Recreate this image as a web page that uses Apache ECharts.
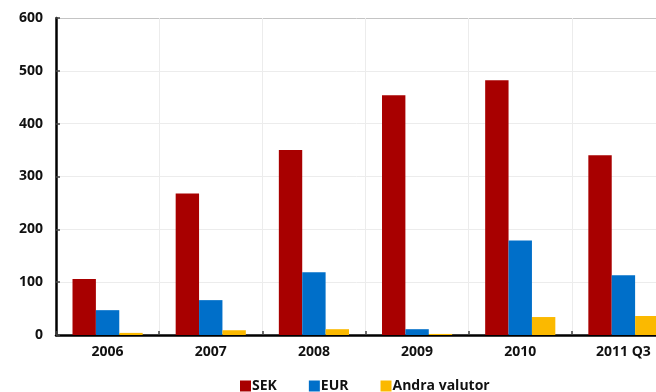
<!DOCTYPE html>
<html>
<head>
<meta charset="utf-8">
<script src="https://cdn.jsdelivr.net/npm/echarts@6/dist/echarts.min.js"></script>
<style>
  html, body { margin: 0; padding: 0; background: #fff; }
  #chart { width: 656px; height: 392px; }
</style>
</head>
<body>
<div id="chart"></div>
<script>
// Categories and values per currency (mdkr)
const categories = ['2006', '2007', '2008', '2009', '2010', '2011 Q3'];
const sek = [106, 268, 350, 454, 482, 340];
const eur = [47, 66, 119, 11, 179, 113];
const andra = [4, 9, 11, 2, 34, 36];
const yTicks = { min: 0, max: 600, interval: 100 };

const FONT = '"Open Sans", "Liberation Sans", sans-serif';
const chart = echarts.init(document.getElementById('chart'), null, { renderer: 'canvas' });

const bar = (name, data, color) => ({
  name, type: 'bar', data,
  itemStyle: { color },
  barGap: '0%',
  barCategoryGap: '32%'
});

chart.setOption({
  animation: false,
  backgroundColor: '#ffffff',
  textStyle: { fontFamily: FONT },
  // plot area runs past the right edge of the canvas
  grid: { left: 56, top: 18, right: -19, bottom: 57, containLabel: false, outerBoundsMode: 'none' },
  legend: {
    left: 235, top: 374,
    itemWidth: 11, itemHeight: 11, itemGap: 32,
    icon: 'rect',
    textStyle: { fontFamily: FONT, fontWeight: 'bold', fontSize: 14, color: '#111', padding: [0, 0, 0, -4] },
    data: ['SEK', 'EUR', 'Andra valutor']
  },
  xAxis: {
    type: 'category',
    data: categories,
    axisLine: { show: true, lineStyle: { color: '#000', width: 2.5 } },
    axisTick: { show: true, inside: true, length: 4, lineStyle: { color: '#444', width: 1.5 } },
    splitLine: { show: true, lineStyle: { color: '#ececec', width: 1 } },
    axisLabel: { fontFamily: FONT, fontWeight: 'bold', fontSize: 14, color: '#111', margin: 10 }
  },
  yAxis: {
    type: 'value',
    min: yTicks.min, max: yTicks.max, interval: yTicks.interval,
    axisLine: { show: true, lineStyle: { color: '#000', width: 2.5 } },
    axisTick: { show: true, inside: true, length: 4, lineStyle: { color: '#444', width: 1.5 } },
    splitLine: {
      show: true,
      lineStyle: { color: ['#ececec', '#ececec', '#ececec', '#ececec', '#ececec', '#ececec', '#c4c4c4'], width: 1 }
    },
    axisLabel: { fontFamily: FONT, fontWeight: 'bold', fontSize: 14, color: '#111', margin: 13 }
  },
  series: [
    bar('SEK', sek, '#a80000'),
    bar('EUR', eur, '#006fc9'),
    bar('Andra valutor', andra, '#fbb900')
  ]
});
</script>
</body>
</html>
